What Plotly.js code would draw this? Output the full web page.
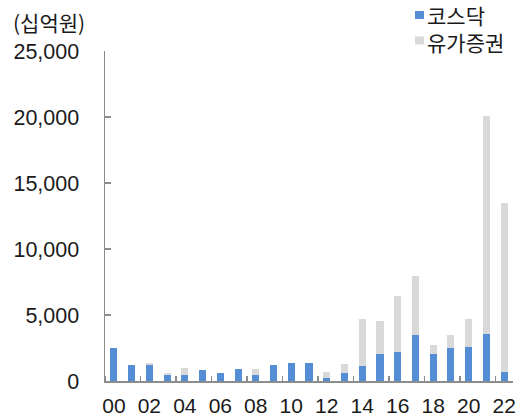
<!DOCTYPE html>
<html>
<head>
<meta charset="utf-8">
<script src="https://cdn.plot.ly/plotly-3.0.1.min.js"></script>
<style>html,body{margin:0;padding:0;background:#fff;}#chart{width:523px;height:417px;}</style>
</head>
<body>
<div id="chart"></div>
<script>
const years = ['00','01','02','03','04','05','06','07','08','09','10','11','12','13','14','15','16','17','18','19','20','21','22'];
const kosdaq = [2500,1200,1240,480,430,860,600,900,430,1210,1360,1340,250,610,1140,2070,2170,3510,2050,2520,2580,3560,680];
const kospi = [0,0,120,120,570,0,0,0,450,0,0,0,430,680,3530,2450,4290,4470,680,960,2120,16540,12800];
const tickLabels = ['00','02','04','06','08','10','12','14','16','18','20','22'];
const seriesNames = ['코스닥','유가증권'];

const xIdx = years.map((_, i) => i);
const tickIdx = tickLabels.map(t => years.indexOf(t));
const FONT = 'Liberation Sans, Arial, Noto Sans CJK KR, sans-serif';
const KFONT = 'Noto Sans CJK KR, Liberation Sans, sans-serif';
const BLUE = '#558ED5', GRAY = '#D9D9D9';

const traces = [
  {type:'bar', x:xIdx, y:kosdaq, name:seriesNames[0], marker:{color:BLUE}, showlegend:false},
  {type:'bar', x:xIdx, y:kospi, name:seriesNames[1], marker:{color:GRAY}, showlegend:false}
];

const px = x => (x - 105) / 408;
const py = y => (381 - y) / 330;

const layout = {
  width:523, height:417,
  margin:{l:105, r:10, t:51, b:36},
  barmode:'stack', bargap:0.6,
  paper_bgcolor:'#fff', plot_bgcolor:'#fff',
  font:{family:FONT, size:20, color:'#1a1a1a'},
  xaxis:{
    range:[-0.5,22.5], tickvals:tickIdx, ticktext:tickLabels,
    showline:true, linecolor:'#8c8c8c', linewidth:1.5,
    ticks:'', showgrid:false, zeroline:false, ticklabelstandoff:5,
    minor:{tick0:1.5, dtick:2, ticks:'inside', ticklen:5, tickcolor:'#8c8c8c', tickwidth:1.5, showgrid:false},
    tickfont:{family:FONT, size:21, color:'#1a1a1a'}
  },
  yaxis:{
    range:[0,25000], tickvals:[0,5000,10000,15000,20000,25000], tickformat:',',
    showline:true, linecolor:'#8c8c8c', linewidth:1.5,
    ticks:'inside', ticklen:6, tickcolor:'#8c8c8c', tickwidth:1.5,
    showgrid:false, zeroline:false, ticklabelstandoff:20,
    tickfont:{family:FONT, size:21.5, color:'#1a1a1a'}
  },
  shapes:[
    {type:'rect', xref:'paper', yref:'paper', x0:px(415), x1:px(424), y0:py(19), y1:py(11), fillcolor:BLUE, line:{width:0}},
    {type:'rect', xref:'paper', yref:'paper', x0:px(415), x1:px(424), y0:py(44.5), y1:py(36.5), fillcolor:GRAY, line:{width:0}}
  ],
  annotations:[
    {xref:'paper', yref:'paper', x:px(426), y:py(28), xanchor:'left', yanchor:'middle', align:'left', borderpad:0, text:seriesNames.join('<br>'), showarrow:false, font:{family:KFONT, size:21, color:'#1a1a1a'}},
    {xref:'paper', yref:'paper', x:px(11), y:py(21.5), xanchor:'left', yanchor:'middle', text:'(십억원)', showarrow:false, font:{family:KFONT, size:21, color:'#1a1a1a'}}
  ]
};

Plotly.newPlot('chart', traces, layout, {staticPlot:true, displayModeBar:false});
</script>
</body>
</html>
